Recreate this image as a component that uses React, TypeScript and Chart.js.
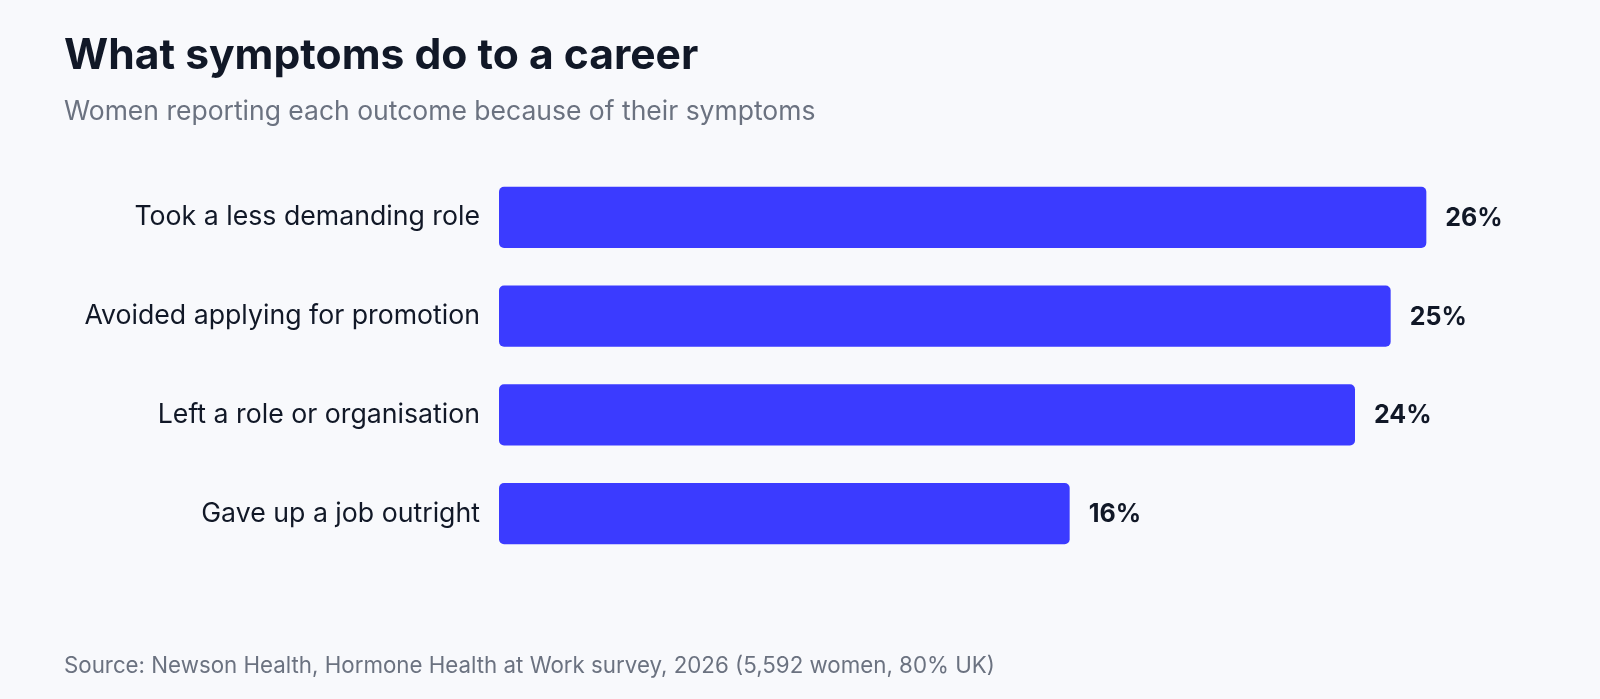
import { useEffect, useRef } from "react"
import { Chart, registerables } from "chart.js"

Chart.register(...registerables)

const FONT = "Inter, 'Open Sans', sans-serif"
const BAR_COLOR = "#3b3bff"
const TEXT_DARK = "#111827"
const TEXT_MUTED = "#6b7280"

// Share of women reporting each career outcome (%)
const categories = [
  "Took a less demanding role",
  "Avoided applying for promotion",
  "Left a role or organisation",
  "Gave up a job outright",
]
const values = [26, 25, 24, 16]

const valueLabels = {
  id: "valueLabels",
  afterDatasetsDraw(chart: Chart) {
    const { ctx } = chart
    const meta = chart.getDatasetMeta(0)
    ctx.save()
    ctx.font = `700 25px ${FONT}`
    ctx.fillStyle = TEXT_DARK
    ctx.textAlign = "left"
    ctx.textBaseline = "middle"
    meta.data.forEach((bar, i) => {
      ctx.fillText(`${values[i]}%`, bar.x + 19, bar.y + 1)
    })
    ctx.restore()
  },
}

export default function App() {
  const chartRef = useRef<HTMLCanvasElement>(null)
  const chartInstance = useRef<Chart | null>(null)

  useEffect(() => {
    document.body.style.margin = "0"
    if (!chartRef.current) return
    if (chartInstance.current) chartInstance.current.destroy()

    chartInstance.current = new Chart(chartRef.current, {
      type: "bar",
      data: {
        labels: categories,
        datasets: [
          {
            data: values,
            backgroundColor: BAR_COLOR,
            borderRadius: 5,
            borderSkipped: false,
            barPercentage: 0.62,
            categoryPercentage: 1,
          },
        ],
      },
      options: {
        indexAxis: "y",
        animation: false,
        responsive: true,
        maintainAspectRatio: false,
        layout: { padding: { top: 168, bottom: 136, left: 0, right: 31 } },
        plugins: {
          legend: { display: false },
          tooltip: { enabled: false },
        },
        scales: {
          x: { display: false, min: 0, max: 30 },
          y: {
            grid: { display: false, drawTicks: false },
            border: { display: false },
            ticks: {
              color: TEXT_DARK,
              padding: 19,
              font: { family: FONT, size: 26.7 },
            },
            afterFit: (scale) => {
              scale.width = 499
            },
          },
        },
      },
      plugins: [valueLabels],
    })

    return () => {
      if (chartInstance.current) {
        chartInstance.current.destroy()
        chartInstance.current = null
      }
    }
  }, [])

  return (
    <div
      style={{
        position: "absolute",
        left: 0,
        top: 0,
        width: 1600,
        height: 699,
        background: "#f8f9fc",
        fontFamily: FONT,
        overflow: "hidden",
      }}
    >
      <canvas ref={chartRef} style={{ position: "absolute", left: 0, top: 0, width: 1600, height: 699 }}></canvas>
      {/* Title */}
      <div style={{ position: "absolute", left: 64, top: 32.5, fontSize: 42.6, lineHeight: "42.6px", fontWeight: 700, color: TEXT_DARK }}>
        What symptoms do to a career
      </div>
      <div style={{ position: "absolute", left: 64, top: 97, fontSize: 26.5, lineHeight: "26.5px", color: TEXT_MUTED }}>
        Women reporting each outcome because of their symptoms
      </div>
      {/* Source */}
      <div style={{ position: "absolute", left: 64, top: 653.5, fontSize: 22.3, lineHeight: "22.3px", color: TEXT_MUTED }}>
        Source: Newson Health, Hormone Health at Work survey, 2026 (5,592 women, 80% UK)
      </div>
    </div>
  )
}
